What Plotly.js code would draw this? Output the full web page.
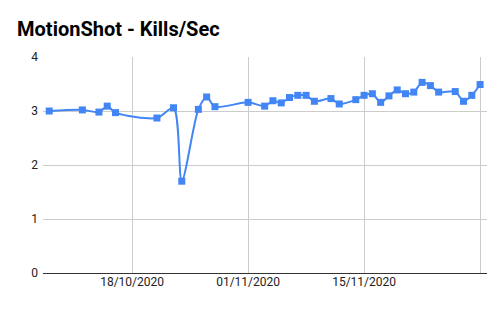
<!DOCTYPE html>
<html>
<head>
<meta charset="utf-8">
<script src="https://cdn.plot.ly/plotly-3.0.1.min.js"></script>
<style>html,body{margin:0;padding:0;background:#fff;}#chart{width:502px;height:310px;}</style>
</head>
<body>
<div id="chart"></div>
<script>
const dates = ['2020-10-08','2020-10-12','2020-10-14','2020-10-15','2020-10-16','2020-10-21','2020-10-23','2020-10-24','2020-10-26','2020-10-27','2020-10-28','2020-11-01','2020-11-03','2020-11-04','2020-11-05','2020-11-06','2020-11-07','2020-11-08','2020-11-09','2020-11-11','2020-11-12','2020-11-14','2020-11-15','2020-11-16','2020-11-17','2020-11-18','2020-11-19','2020-11-20','2020-11-21','2020-11-22','2020-11-23','2020-11-24','2020-11-26','2020-11-27','2020-11-28','2020-11-29'];
const killsPerSec = [3.00,3.02,2.98,3.09,2.97,2.87,3.06,1.70,3.03,3.26,3.08,3.16,3.09,3.19,3.15,3.25,3.29,3.29,3.18,3.23,3.13,3.21,3.29,3.32,3.16,3.28,3.39,3.32,3.35,3.53,3.47,3.35,3.36,3.18,3.29,3.49];
const tickDates = ['2020-10-18','2020-11-01','2020-11-15','2020-11-29'];
const tickLabels = ['18/10/2020','01/11/2020','15/11/2020',''];

Plotly.newPlot('chart', [{
  x: dates, y: killsPerSec, type: 'scatter', mode: 'lines+markers',
  line: {color: '#4285F4', width: 2, shape: 'spline', smoothing: 0.8},
  marker: {symbol: 'square', size: 7, color: '#4285F4'},
  hoverinfo: 'none'
}], {
  width: 502, height: 310,
  margin: {l: 43, r: 15, t: 57, b: 37},
  paper_bgcolor: '#fff', plot_bgcolor: '#fff',
  font: {family: 'Roboto, Arial, sans-serif', size: 12, color: '#222'},
  title: {text: '<b>MotionShot - Kills/Sec</b>', font: {family: 'Roboto, Arial, sans-serif', size: 20, color: '#000'}, x: 0.034, xanchor: 'left', y: 0.905, yanchor: 'middle'},
  showlegend: false,
  xaxis: {type: 'date', range: ['2020-10-07 06:00', '2020-11-29 20:00'], tickvals: tickDates, ticktext: tickLabels,
    showgrid: true, gridcolor: '#cccccc', gridwidth: 1, zeroline: false, showline: false, ticks: '', tickfont: {size: 12, color: '#222'}},
  yaxis: {range: [0, 4], tickvals: [0,1,2,3,4], showgrid: true, gridcolor: '#cccccc', gridwidth: 1,
    zeroline: true, zerolinecolor: '#333', zerolinewidth: 1, showline: false, ticks: '', ticklabelstandoff: 4, tickfont: {size: 12, color: '#222'}}
}, {displayModeBar: false, staticPlot: true});
</script>
</body>
</html>
